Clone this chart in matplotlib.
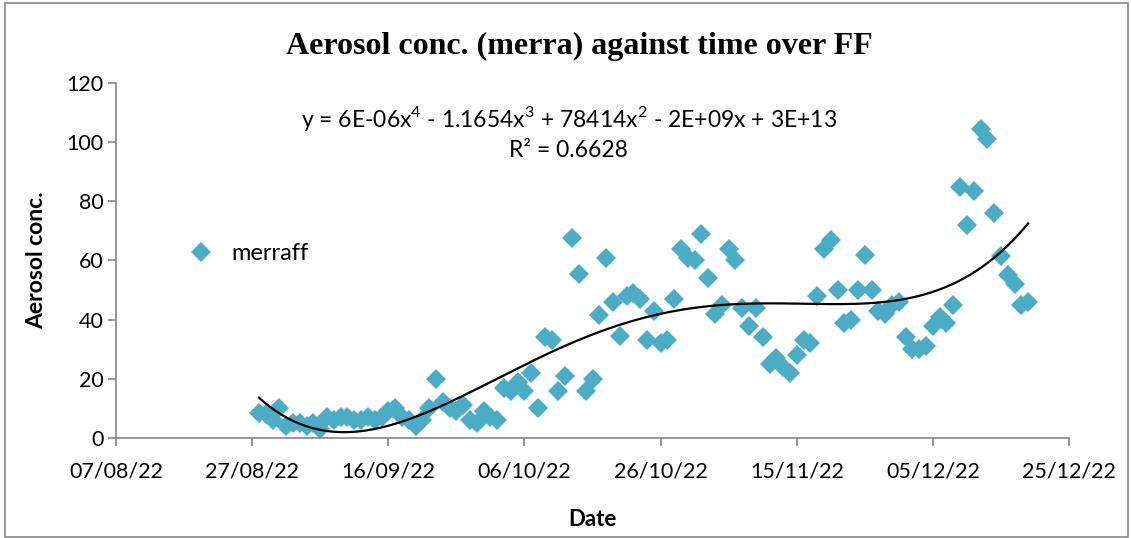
import numpy as np
import pandas as pd
import matplotlib
matplotlib.use('Agg')
import matplotlib.pyplot as plt
import matplotlib.dates as mdates
from matplotlib.patches import Rectangle

# Data (daily values)
START_DATE = '2022-08-28'
merraff = [
    8.5, 8, 6, 10, 4, 5, 5, 4, 5, 3,
    7, 6, 7, 7, 6, 6, 7, 6, 7, 9,
    10, 7, 6, 4, 6, 10, 20, 12, 10, 9,
    11, 6, 5, 9, 7, 6, 17, 16, 19, 16,
    22, 10, 34, 33, 16, 21, 67.5, 55.5, 16, 20,
    41.5, 61, 46, 34.5, 48, 49, 47, 33, 43, 32,
    33, 47, 64, 61, 60, 69, 54, 42, 45, 64,
    60, 44, 38, 44, 34, 25, 27, 24, 22, 28,
    33, 32, 48, 64, 67, 50, 39, 40, 50, 62,
    50, 43, 42, 45, 46, 34, 30, 30, 31, 38,
    41, 39, 45, 85, 72, 83.5, 104.5, 101, 76, 61.5,
    55, 52, 45, 46,
]
x_ticks = ['2022-08-07', '2022-08-27', '2022-09-16', '2022-10-06',
           '2022-10-26', '2022-11-15', '2022-12-05', '2022-12-25']
y_ticks = [0, 20, 40, 60, 80, 100, 120]

TITLE = 'Aerosol conc. (merra) against time over FF'
EQUATION = 'y = 6E-06x$^4$ - 1.1654x$^3$ + 78414x$^2$ - 2E+09x + 3E+13'
R2 = 'R² = 0.6628'

MARKER_COLOR = '#4BACC6'
GREY = '#868686'


def main():
    plt.rcParams['font.family'] = ['Lato', 'DejaVu Sans']
    plt.rcParams['mathtext.fontset'] = 'custom'
    plt.rcParams['mathtext.rm'] = 'Lato'
    dates = pd.date_range(START_DATE, periods=len(merraff), freq='D')
    values = np.array(merraff, dtype=float)

    fig = plt.figure(figsize=(11.31, 5.38), dpi=100)
    ax = fig.add_axes([0.1026, 0.1859, 0.8426, 0.6598])

    ax.plot(dates, values, linestyle='none', marker='D', markersize=10,
            color=MARKER_COLOR, markeredgewidth=0, label='merraff', zorder=2)

    # 4th order polynomial trendline
    t = mdates.date2num(dates)
    t0 = t.mean()
    coeffs = np.polyfit(t - t0, values, 4)
    tt = np.linspace(t.min(), t.max(), 300)
    ax.plot(mdates.num2date(tt), np.polyval(coeffs, tt - t0), color='black',
            linewidth=1.6, zorder=3)

    ax.set_xlim(pd.Timestamp(x_ticks[0]), pd.Timestamp(x_ticks[-1]))
    ax.set_ylim(y_ticks[0], y_ticks[-1])
    ax.set_xticks([pd.Timestamp(d) for d in x_ticks])
    ax.xaxis.set_major_formatter(mdates.DateFormatter('%d/%m/%y'))
    ax.set_yticks(y_ticks)

    for side in ['top', 'right']:
        ax.spines[side].set_visible(False)
    for side in ['left', 'bottom']:
        ax.spines[side].set_color(GREY)
        ax.spines[side].set_linewidth(1.2)
    ax.tick_params(direction='out', length=6, width=1.2, color=GREY,
                   labelsize=15.5, labelcolor='black')
    ax.tick_params(axis='x', pad=11)
    ax.tick_params(axis='y', pad=3)

    ax.set_xlabel('Date', fontsize=16, fontweight='bold', labelpad=20)
    ax.set_ylabel('Aerosol conc.', fontsize=16.5, fontweight='bold', labelpad=14)

    fig.text(0.512, 0.913, TITLE, ha='center', va='center', fontsize=23,
             fontweight='bold', family='Liberation Serif')
    ax.text(0.475, 0.9, EQUATION, transform=ax.transAxes, ha='center',
            va='center', fontsize=16.5)
    ax.text(0.475, 0.81, R2, transform=ax.transAxes, ha='center',
            va='center', fontsize=16.5)

    ax.legend(loc='center left', bbox_to_anchor=(0.042, 0.52), frameon=False,
              fontsize=17, handletextpad=0.3, markerscale=1.0)

    fig.patches.append(Rectangle((0.004, 0.002), 0.993, 0.993,
                                 transform=fig.transFigure, fill=False,
                                 edgecolor=GREY, linewidth=1.2))

    fig.savefig('out.png', dpi=100)


if __name__ == '__main__':
    main()
